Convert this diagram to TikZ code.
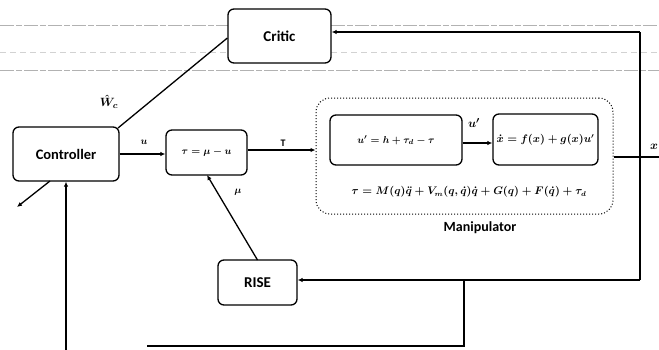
\documentclass[tikz,border=0pt]{standalone}
\usepackage{fontspec}
\setmainfont{Carlito}
\usetikzlibrary{arrows.meta}
\begin{document}
\begin{tikzpicture}[x=1pt,y=-1pt,
  box/.style={draw,line width=1.3pt,rounded corners=6pt,inner sep=0pt},
  mbox/.style={draw,line width=1.3pt,rounded corners=6pt,inner sep=0pt},
  conn/.style={line width=1.3pt},
  arr/.style={line width=1.3pt,-{Latex[length=5pt,width=4.5pt]}},
  scan/.style={gray!60,line width=0.7pt,dash pattern=on 14pt off 2pt on 6pt off 2pt},
  lab/.style={inner sep=1pt}
]
\useasboundingbox (0,0) rectangle (659,349);
% faint ruled lines of the scan
\draw[scan] (0,25) -- (228,25) (331,25) -- (659,25);
\draw[scan,gray!35,dash pattern=on 6pt off 4pt] (0,52) -- (228,52) (331,52) -- (659,52);
\draw[scan] (0,70) -- (659,70);

\node[box,minimum width=103pt,minimum height=54pt,fill=white,font=\bfseries\fontsize{15}{17}\selectfont] (critic) at (279.5,36) {Critic};
\node[box,minimum width=106pt,minimum height=54pt,font=\bfseries\fontsize{14.5}{17}\selectfont] (ctrl) at (66,154) {Controller};
\node[mbox,minimum width=81pt,minimum height=45pt,font=\fontsize{10}{12}\selectfont\boldmath] (sum) at (206.5,152.5) {$\tau=\mu-u$};
\node[draw,line width=1pt,dotted,rounded corners=14pt,minimum width=297pt,minimum height=116pt] (manip) at (464.5,156) {};
\node[mbox,minimum width=132pt,minimum height=50pt,font=\fontsize{10}{12}\selectfont\boldmath] (in1) at (396,140) {$u'=h+\tau_d-\tau$};
\node[mbox,minimum width=105pt,minimum height=51pt,font=\fontsize{10.5}{12}\selectfont\boldmath] (in2) at (545.5,139.5) {$\dot x=f(x)+g(x)u'$};
\node[box,minimum width=79pt,minimum height=45pt,font=\bfseries\fontsize{15}{17}\selectfont] (rise) at (257.5,282.5) {RISE};

\node[font=\fontsize{10.5}{12}\selectfont\boldmath] (eq) at (469,192) {$\tau=M(q)\ddot q+V_m(q,\dot q)\dot q+G(q)+F(\dot q)+\tau_d$};
\node[font=\bfseries\fontsize{14}{16}\selectfont] (mlab) at (480,228) {Manipulator};

% labels
\node[lab,font=\fontsize{13}{15}\selectfont\boldmath] (wc) at (109,102) {$\hat W_c$};
\node[lab,font=\fontsize{10}{12}\selectfont\boldmath] (ul) at (144,142) {$u$};
\node[lab,font=\bfseries\fontsize{10}{12}\selectfont] (tl) at (283,143) {T};
\node[lab,font=\fontsize{13}{15}\selectfont\boldmath] (upl) at (474,123) {$u'$};
\node[lab,font=\fontsize{10}{12}\selectfont\boldmath] (mul) at (238,192) {$\mu$};
\node[lab,font=\fontsize{12}{14}\selectfont\boldmath] (xl) at (654,147) {$x$};

% coordinates
\coordinate (xo) at (659,157);
\coordinate (fbt) at (640,32);
\coordinate (fbb) at (640,280);
\coordinate (br) at (464,280);
\coordinate (bb) at (464,346);
\coordinate (bl) at (147,346);
\coordinate (cin) at (67,349);
\coordinate (cout) at (17,207);
\coordinate (cs) at (50,181);
\coordinate (ctr) at (118,128);
\coordinate (rt) at (257,260);
\coordinate (st) at (207,175);

% connectors
\draw[arr] (ctrl.east) -- (ctrl.east -| sum.west);
\draw[arr] (sum.east |- 0,150) -- (manip.west |- 0,150);
\draw[arr] (in1.east |- 0,143) -- (in2.west |- 0,143);
\draw[conn] (manip.east |- xo) -- (xo);
\draw[conn] (fbb) -- (fbt);
\draw[arr] (fbt) -- (critic.east |- fbt);
\draw[arr] (fbb) -- (rise.east |- fbb);
\draw[conn] (br) -- (bb) -- (bl);
\draw[arr] (cin) -- (ctrl.south |- cin) -- (ctrl.south);
\draw[arr] (cs) -- (cout);
\draw[conn] (ctr) -- (critic.west |- 0,38);
\draw[arr] (rise.north |- rt) -- (st);
\end{tikzpicture}
\end{document}
